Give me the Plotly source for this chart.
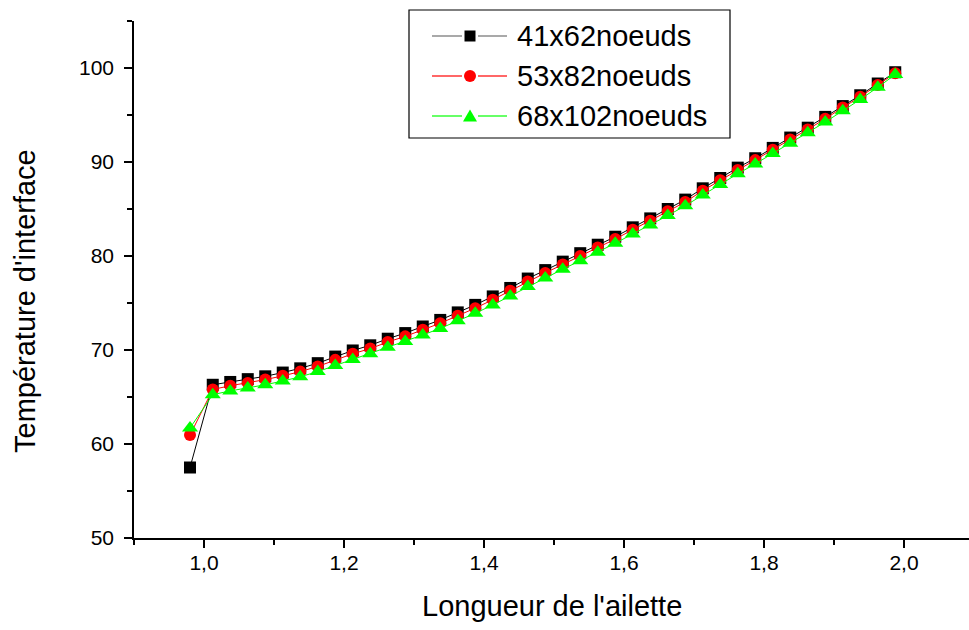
import plotly.graph_objects as go

# Interface temperature along the fin, for three mesh resolutions
longueur = [0.98] + [round(1.0125 + 0.025 * i, 4) for i in range(40)]

t_41x62 = [57.5, 66.3, 66.6, 66.9, 67.2, 67.6, 68.05, 68.6, 69.3, 69.95,
           70.5, 71.2, 71.8, 72.5, 73.2, 74.0, 74.8, 75.7, 76.6, 77.6,
           78.5, 79.4, 80.3, 81.2, 82.05, 83.05, 84.0, 85.0, 86.0, 87.2,
           88.3, 89.4, 90.4, 91.5, 92.6, 93.65, 94.8, 95.95, 97.1, 98.35, 99.55]

t_53x82 = [60.95, 65.8, 66.2, 66.5, 66.85, 67.25, 67.7, 68.25, 68.95, 69.6,
           70.15, 70.85, 71.45, 72.15, 72.85, 73.65, 74.45, 75.35, 76.3, 77.3,
           78.2, 79.1, 80.0, 80.9, 81.8, 82.8, 83.75, 84.75, 85.75, 86.95,
           88.05, 89.15, 90.2, 91.3, 92.4, 93.45, 94.6, 95.8, 96.95, 98.2, 99.45]

t_68x102 = [61.7, 65.25, 65.65, 65.95, 66.3, 66.7, 67.15, 67.7, 68.35, 69.0,
            69.6, 70.3, 70.9, 71.6, 72.3, 73.1, 73.9, 74.8, 75.75, 76.75,
            77.65, 78.6, 79.5, 80.4, 81.35, 82.35, 83.3, 84.3, 85.35, 86.5,
            87.6, 88.75, 89.8, 90.9, 92.0, 93.1, 94.25, 95.45, 96.65, 97.95, 99.3]

noms = ["41x62noeuds", "53x82noeuds", "68x102noeuds"]
couleurs = ["#000000", "#ff0000", "#00ff00"]
symboles = ["square", "circle", "triangle-up"]
tailles = [12, 12, 14]
series = [t_41x62, t_53x82, t_68x102]

W, H = 969, 630
ML, MR, MT, MB = 134, 0, 21, 92
PW, PH = W - ML - MR, H - MT - MB
FONT = "Liberation Sans, Arial, sans-serif"


def px(x):
    return (x - ML) / PW


def py(y):
    return (H - MB - y) / PH


fig = go.Figure()
for nom, y, c, s, t in zip(noms, series, couleurs, symboles, tailles):
    fig.add_trace(go.Scatter(
        x=longueur, y=y, name=nom, mode="lines+markers",
        line=dict(color=c, width=1),
        marker=dict(symbol=s, size=t, color=c, line=dict(width=0)),
        cliponaxis=False,
    ))

# Legend box drawn by hand (long sample lines with the marker in the middle)
shapes = [dict(type="rect", xref="paper", yref="paper",
               x0=px(409), x1=px(730), y0=py(138), y1=py(10),
               line=dict(color="black", width=1.2), fillcolor="white", layer="above")]
annotations = []
rows = [36, 76, 116]
for nom, c, s, yr in zip(noms, couleurs, symboles, rows):
    for a, b in [(432, 462), (478, 507)]:
        shapes.append(dict(type="line", xref="paper", yref="paper",
                           x0=px(a), x1=px(b), y0=py(yr), y1=py(yr),
                           line=dict(color=c if c != "#000000" else "#707070", width=1.2),
                           layer="above"))
    cx = 470
    if s == "square":
        shapes.append(dict(type="rect", xref="paper", yref="paper",
                           x0=px(cx - 5.5), x1=px(cx + 5.5), y0=py(yr + 5.5), y1=py(yr - 5.5),
                           fillcolor=c, line=dict(width=0), layer="above"))
    elif s == "circle":
        shapes.append(dict(type="circle", xref="paper", yref="paper",
                           x0=px(cx - 6), x1=px(cx + 6), y0=py(yr + 6), y1=py(yr - 6),
                           fillcolor=c, line=dict(width=0), layer="above"))
    else:
        path = "M {} {} L {} {} L {} {} Z".format(px(cx - 7), py(yr + 5.5),
                                                  px(cx + 7), py(yr + 5.5),
                                                  px(cx), py(yr - 6.5))
        shapes.append(dict(type="path", xref="paper", yref="paper", path=path,
                           fillcolor=c, line=dict(width=0), layer="above"))
    annotations.append(dict(text=nom, xref="paper", yref="paper", x=px(515), y=py(yr),
                            xanchor="left", yanchor="middle", showarrow=False,
                            font=dict(size=29, family=FONT, color="black")))

# Axis titles
annotations.append(dict(text="Longueur de l'ailette", xref="paper", yref="paper",
                        x=0.5, y=py(606), xanchor="center", yanchor="middle",
                        showarrow=False, font=dict(size=29, family=FONT, color="black")))
annotations.append(dict(text="Température d'interface", xref="paper", yref="paper",
                        x=px(25), y=py(301), xanchor="center", yanchor="middle",
                        textangle=-90, showarrow=False,
                        font=dict(size=29, family=FONT, color="black")))

axe = dict(showgrid=False, zeroline=False, showline=True, linecolor="black",
           linewidth=1.6, ticks="outside", ticklen=8, tickwidth=1.6, tickcolor="black",
           tickfont=dict(size=21, family=FONT, color="black"), automargin=False)

fig.update_layout(
    width=W, height=H,
    margin=dict(l=ML, r=MR, t=MT, b=MB, autoexpand=False),
    plot_bgcolor="white", paper_bgcolor="white",
    showlegend=False, separators=",.",
    font=dict(family=FONT, color="black"),
    shapes=shapes, annotations=annotations,
    xaxis=dict(axe, range=[0.9, 0.9 + PW / 700], tick0=0, dtick=0.2, tickformat=".1f",
               ticklabelstandoff=-3,
               minor=dict(dtick=0.1, tick0=0, ticks="outside", ticklen=5,
                          tickwidth=1.6, tickcolor="black")),
    yaxis=dict(axe, range=[50, 105], tick0=0, dtick=10, ticklabelstandoff=6,
               minor=dict(dtick=5, tick0=0, ticks="outside", ticklen=5,
                          tickwidth=1.6, tickcolor="black")),
)

fig.write_html("out.html")
